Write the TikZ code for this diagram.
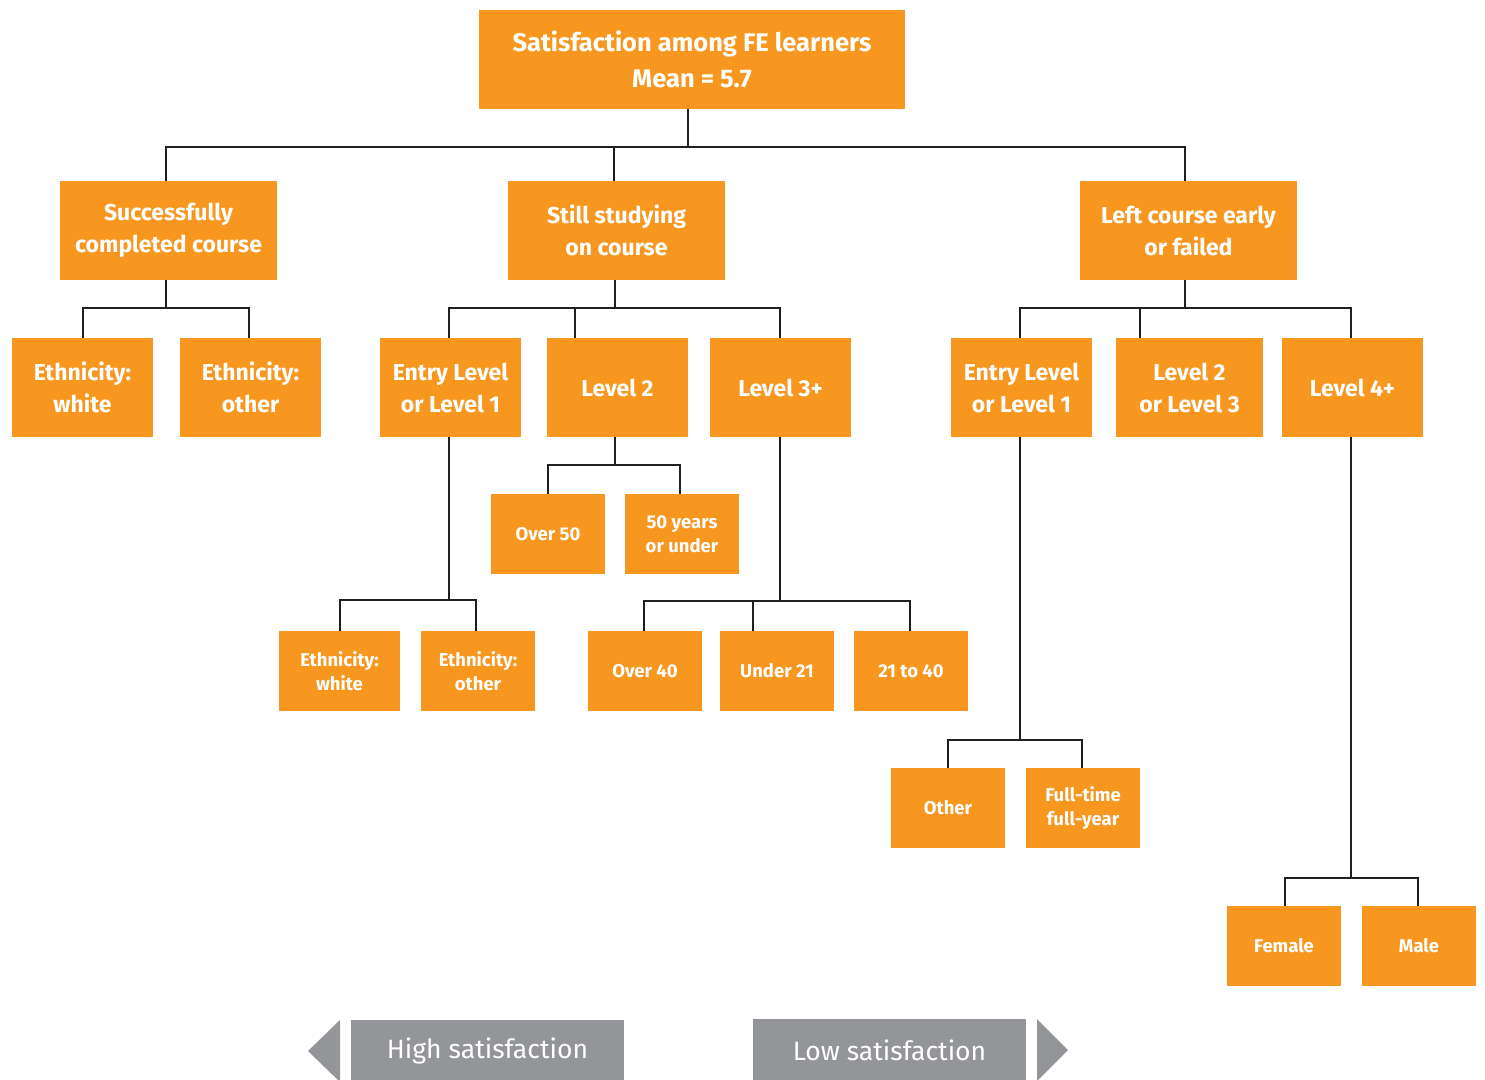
\documentclass[tikz,border=0pt]{standalone}
\usepackage{fontspec}
\setmainfont{Fira Sans}
\definecolor{boxorange}{HTML}{F7971F}
\definecolor{bargrey}{HTML}{939598}
\definecolor{linedark}{HTML}{231F20}
\tikzset{
  box/.style={fill=boxorange, text=white, inner sep=0pt, align=center, font=\bfseries\fontsize{23}{32}\selectfont},
  bigbox/.style={box, minimum width=217, minimum height=99},
  midbox/.style={box, minimum width=141, minimum height=99},
  smallbox/.style={box, minimum width=114, minimum height=80, font=\bfseries\fontsize{18.5}{24}\selectfont},
  conn/.style={draw=linedark, line width=2.9pt, line join=miter},
  barlabel/.style={text=white, inner sep=0pt, font=\fontsize{26.5}{30}\selectfont},
}
\begin{document}
\begin{tikzpicture}[x=1pt, y=-1pt]
\useasboundingbox (0,0) rectangle (1485,1079);
\clip (0,0) rectangle (1485,1079);
% level 0
\node[box, minimum width=426, minimum height=99, font=\bfseries\fontsize{25.5}{36}\selectfont] (root) at (692,59.5) {Satisfaction among FE learners\\Mean = 5.7};
% level 1
\node[bigbox] (succ) at (168.5,230.5) {Successfully\\completed course};
\node[bigbox] (still) at (616.5,230.5) {Still studying\\on course};
\node[bigbox] (left) at (1188.5,230.5) {Left course early\\or failed};
% level 2
\node[midbox] (ew1) at (82.5,387.5) {Ethnicity:\\white};
\node[midbox] (eo1) at (250.5,387.5) {Ethnicity:\\other};
\node[midbox] (el1) at (450.5,387.5) {Entry Level\\or Level 1};
\node[midbox] (l2) at (617.5,387.5) {Level 2};
\node[midbox] (l3) at (780.5,387.5) {Level 3+};
\node[midbox] (el2) at (1021.5,387.5) {Entry Level\\or Level 1};
\node[midbox, minimum width=147] (l23) at (1189.5,387.5) {Level 2\\or Level 3};
\node[midbox] (l4) at (1352.5,387.5) {Level 4+};
% level 3
\node[smallbox] (o50) at (548,534) {Over 50};
\node[smallbox] (u50) at (682,534) {50 years\\or under};
\node[smallbox, minimum width=121] (ew2) at (339.5,671) {Ethnicity:\\white};
\node[smallbox] (eo2) at (478,671) {Ethnicity:\\other};
\node[smallbox] (o40) at (645,671) {Over 40};
\node[smallbox] (u21) at (777,671) {Under 21};
\node[smallbox] (a2140) at (911,671) {21 to 40};
\node[smallbox] (oth) at (948,808) {Other};
\node[smallbox] (ft) at (1083,808) {Full-time\\full-year};
\node[smallbox] (fem) at (1284,946) {Female};
\node[smallbox] (male) at (1419,946) {Male};
% connectors root
\draw[conn] (688,0 |- root.south) -- (688,147);
\draw[conn] (166,0 |- succ.north) -- (166,147) -- (1185,147) -- (1185,0 |- left.north);
\draw[conn] (614,147) -- (614,0 |- still.north);
% successful
\draw[conn] (166,0 |- succ.south) -- (166,308);
\draw[conn] (83,0 |- ew1.north) -- (83,308) -- (249,308) -- (249,0 |- eo1.north);
% still studying
\draw[conn] (615,0 |- still.south) -- (615,308);
\draw[conn] (449,0 |- el1.north) -- (449,308) -- (780,308) -- (780,0 |- l3.north);
\draw[conn] (575,308) -- (575,0 |- l2.north);
% left
\draw[conn] (1185,0 |- left.south) -- (1185,308);
\draw[conn] (1020,0 |- el2.north) -- (1020,308) -- (1351,308) -- (1351,0 |- l4.north);
\draw[conn] (1140,308) -- (1140,0 |- l23.north);
% level 2 -> age
\draw[conn] (615,0 |- l2.south) -- (615,465);
\draw[conn] (548,0 |- o50.north) -- (548,465) -- (680,465) -- (680,0 |- u50.north);
% entry level -> ethnicity
\draw[conn] (449,0 |- el1.south) -- (449,600);
\draw[conn] (340,0 |- ew2.north) -- (340,600) -- (476,600) -- (476,0 |- eo2.north);
% level 3+ -> ages
\draw[conn] (780,0 |- l3.south) -- (780,601);
\draw[conn] (644,0 |- o40.north) -- (644,601) -- (910,601) -- (910,0 |- a2140.north);
\draw[conn] (753,601) -- (753,0 |- u21.north);
% left entry level -> mode
\draw[conn] (1020,0 |- el2.south) -- (1020,740);
\draw[conn] (948,0 |- oth.north) -- (948,740) -- (1082,740) -- (1082,0 |- ft.north);
% level 4+ -> gender
\draw[conn] (1351,0 |- l4.south) -- (1351,878);
\draw[conn] (1285,0 |- fem.north) -- (1285,878) -- (1418,878) -- (1418,0 |- male.north);
% bottom legend
\fill[bargrey] (340,1020) -- (308,1051) -- (340,1082) -- cycle;
\node[fill=bargrey, minimum width=273, minimum height=62, inner sep=0pt] (high) at (487.5,1051) {};
\node[barlabel] (hightext) at (high) {High satisfaction};
\node[fill=bargrey, minimum width=273, minimum height=62, inner sep=0pt] (low) at (889.5,1050) {};
\node[barlabel] (lowtext) at (low) {Low satisfaction};
\fill[bargrey] (1037,1019) -- (1068,1050) -- (1037,1081) -- cycle;
\end{tikzpicture}
\end{document}
